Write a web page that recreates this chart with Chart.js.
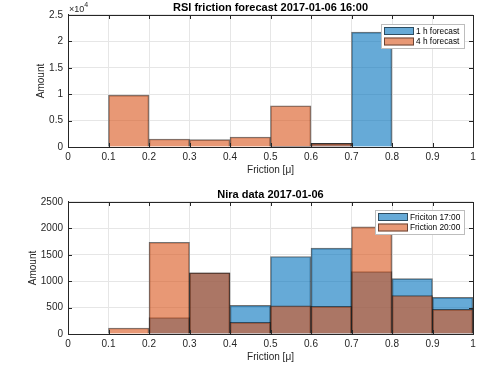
<!DOCTYPE html>
<html>
<head>
<meta charset="utf-8">
<script src="https://cdn.jsdelivr.net/npm/chart.js@4/dist/chart.umd.min.js"></script>
<style>
  html, body { margin: 0; padding: 0; background: #fff; }
  #wrap { position: relative; width: 502px; height: 377px; }
  .box { position: absolute; left: 0; width: 502px; }
</style>
</head>
<body>
<div id="wrap">
  <div class="box" style="top:0;height:187px"><canvas id="top"></canvas></div>
  <div class="box" style="top:187px;height:190px"><canvas id="bottom"></canvas></div>
</div>
<script>
// bin centres (bins 0.1 wide, 0..1)
const binCenters = [0.05, 0.15, 0.25, 0.35, 0.45, 0.55, 0.65, 0.75, 0.85, 0.95];
const xTicks = [0, 0.1, 0.2, 0.3, 0.4, 0.5, 0.6, 0.7, 0.8, 0.9, 1];

// RSI forecast counts
const forecast1h = [0, 0, 0, 0, 0, 150, 700, 21750, 0, 0];
const forecast4h = [0, 9820, 1510, 1390, 1890, 7810, 700, 0, 0, 0];

// Nira counts
const friction1700 = [0, 0, 309, 1160, 541, 1467, 1625, 1180, 1050, 693];
const friction2000 = [0, 113, 1738, 1160, 220, 535, 523, 2030, 730, 466];

const BLUE = "rgba(0, 114, 189, 0.6)";
const ORANGE = "rgba(217, 83, 25, 0.6)";
const EDGE = "rgba(0, 0, 0, 0.55)";
const AXIS = "#262626";
const FONT = "'Liberation Sans', Arial, Helvetica, sans-serif";

const toPoints = (vals) => vals.map((v, i) => ({ x: binCenters[i], y: v }));

// box around axes, inward ticks, legend and exponent label
const matlabAxes = {
  id: "matlabAxes",
  afterDraw(chart, args, opts) {
    const { ctx, chartArea: a, scales } = chart;
    ctx.save();
    ctx.strokeStyle = AXIS;
    ctx.lineWidth = 1;
    ctx.beginPath();
    // inward tick marks
    scales.x.ticks.forEach((t) => {
      const px = Math.round(scales.x.getPixelForValue(t.value)) + 0.5;
      ctx.moveTo(px, a.bottom); ctx.lineTo(px, a.bottom - 4);
      ctx.moveTo(px, a.top); ctx.lineTo(px, a.top + 4);
    });
    scales.y.ticks.forEach((t) => {
      const py = Math.round(scales.y.getPixelForValue(t.value)) + 0.5;
      ctx.moveTo(a.left, py); ctx.lineTo(a.left + 4, py);
      ctx.moveTo(a.right, py); ctx.lineTo(a.right - 4, py);
    });
    ctx.stroke();
    ctx.strokeRect(Math.round(a.left) + 0.5, Math.round(a.top) + 0.5,
      Math.round(a.right - a.left), Math.round(a.bottom - a.top));

    // exponent label
    if (opts.exponent) {
      ctx.fillStyle = AXIS;
      ctx.textBaseline = "alphabetic";
      ctx.textAlign = "left";
      ctx.font = "9px " + FONT;
      ctx.fillText("\u00d710", a.left + 1, a.top - 3);
      const w = ctx.measureText("\u00d710").width;
      ctx.font = "7px " + FONT;
      ctx.fillText(opts.exponent, a.left + 1 + w, a.top - 8);
    }

    // legend box inside the axes
    const lg = opts.legend;
    ctx.font = "8.3px " + FONT;
    ctx.textAlign = "left";
    ctx.textBaseline = "middle";
    ctx.fillStyle = "#fff";
    ctx.fillRect(lg.x, lg.y, lg.w, lg.h);
    ctx.strokeStyle = "#bdbdbd";
    ctx.strokeRect(lg.x + 0.5, lg.y + 0.5, lg.w, lg.h);
    chart.data.datasets.forEach((ds, i) => {
      const cy = lg.y + 3 + i * 10.5;
      ctx.fillStyle = ds.backgroundColor;
      ctx.fillRect(lg.x + 3, cy, lg.sw, 8);
      ctx.strokeStyle = EDGE;
      ctx.strokeRect(lg.x + 3.5, cy + 0.5, lg.sw - 1, 7);
      ctx.fillStyle = "#000";
      ctx.fillText(ds.label, lg.x + lg.sw + 5, cy + 4.5);
    });
    ctx.restore();
  },
};

function makeHist(canvasId, title, labels, series, yMax, yStep, yFmt, extra) {
  return new Chart(document.getElementById(canvasId), {
    type: "bar",
    data: {
      datasets: series.map((vals, i) => ({
        label: labels[i],
        data: toPoints(vals),
        backgroundColor: i === 0 ? BLUE : ORANGE,
        borderColor: EDGE,
        borderWidth: 1,
        barPercentage: 1,
        categoryPercentage: 1,
        grouped: false,
        order: series.length - i,
      })),
    },
    options: {
      responsive: true,
      maintainAspectRatio: false,
      animation: false,
      layout: { padding: { left: 0, right: 29, top: 0, bottom: extra.padBottom } },
      plugins: {
        legend: { display: false },
        tooltip: { enabled: false },
        title: {
          display: true,
          text: title,
          fullSize: false,
          color: "#000",
          font: { family: FONT, size: 11, weight: "bold", lineHeight: 15 / 11 },
          padding: 0,
        },
        matlabAxes: extra,
      },
      scales: {
        x: {
          type: "linear",
          min: 0,
          max: 1,
          offset: false,
          afterFit: (s) => { s.height = 40; },
          afterBuildTicks: (s) => { s.ticks = xTicks.map((v) => ({ value: v })); },
          grid: { color: "#e6e6e6", drawTicks: false, offset: false },
          border: { color: AXIS },
          ticks: {
            padding: 4,
            maxRotation: 0,
            autoSkip: false,
            color: AXIS,
            font: { family: FONT, size: 10 },
            callback: (v) => String(v),
          },
          title: {
            display: true,
            text: "Friction [\u03bc]",
            color: AXIS,
            font: { family: FONT, size: 10 },
            padding: { top: 0, bottom: 11 },
          },
        },
        y: {
          min: 0,
          max: yMax,
          afterFit: (s) => { s.width = 68; },
          grid: { color: "#e6e6e6", drawTicks: false },
          border: { color: AXIS },
          ticks: {
            stepSize: yStep,
            padding: 5,
            color: AXIS,
            font: { family: FONT, size: 10 },
            callback: yFmt,
          },
          title: {
            display: true,
            text: "Amount",
            color: AXIS,
            font: { family: FONT, size: 10 },
            padding: { top: extra.yTitlePad, bottom: 0 },
          },
        },
      },
    },
    plugins: [matlabAxes],
  });
}

makeHist("top", "RSI friction forecast 2017-01-06 16:00",
  ["1 h forecast", "4 h forecast"], [forecast1h, forecast4h],
  25000, 5000, (v) => String(v / 10000),
  { exponent: "4", padBottom: 0, yTitlePad: 35,
    legend: { x: 381, y: 24, w: 83, h: 24, sw: 30 } });

makeHist("bottom", "Nira data 2017-01-06",
  ["Friciton 17:00", "Friction 20:00"], [friction1700, friction2000],
  2500, 500, (v) => String(v),
  { padBottom: 3, yTitlePad: 27,
    legend: { x: 375, y: 23, w: 89, h: 24, sw: 30 } });
</script>
</body>
</html>
